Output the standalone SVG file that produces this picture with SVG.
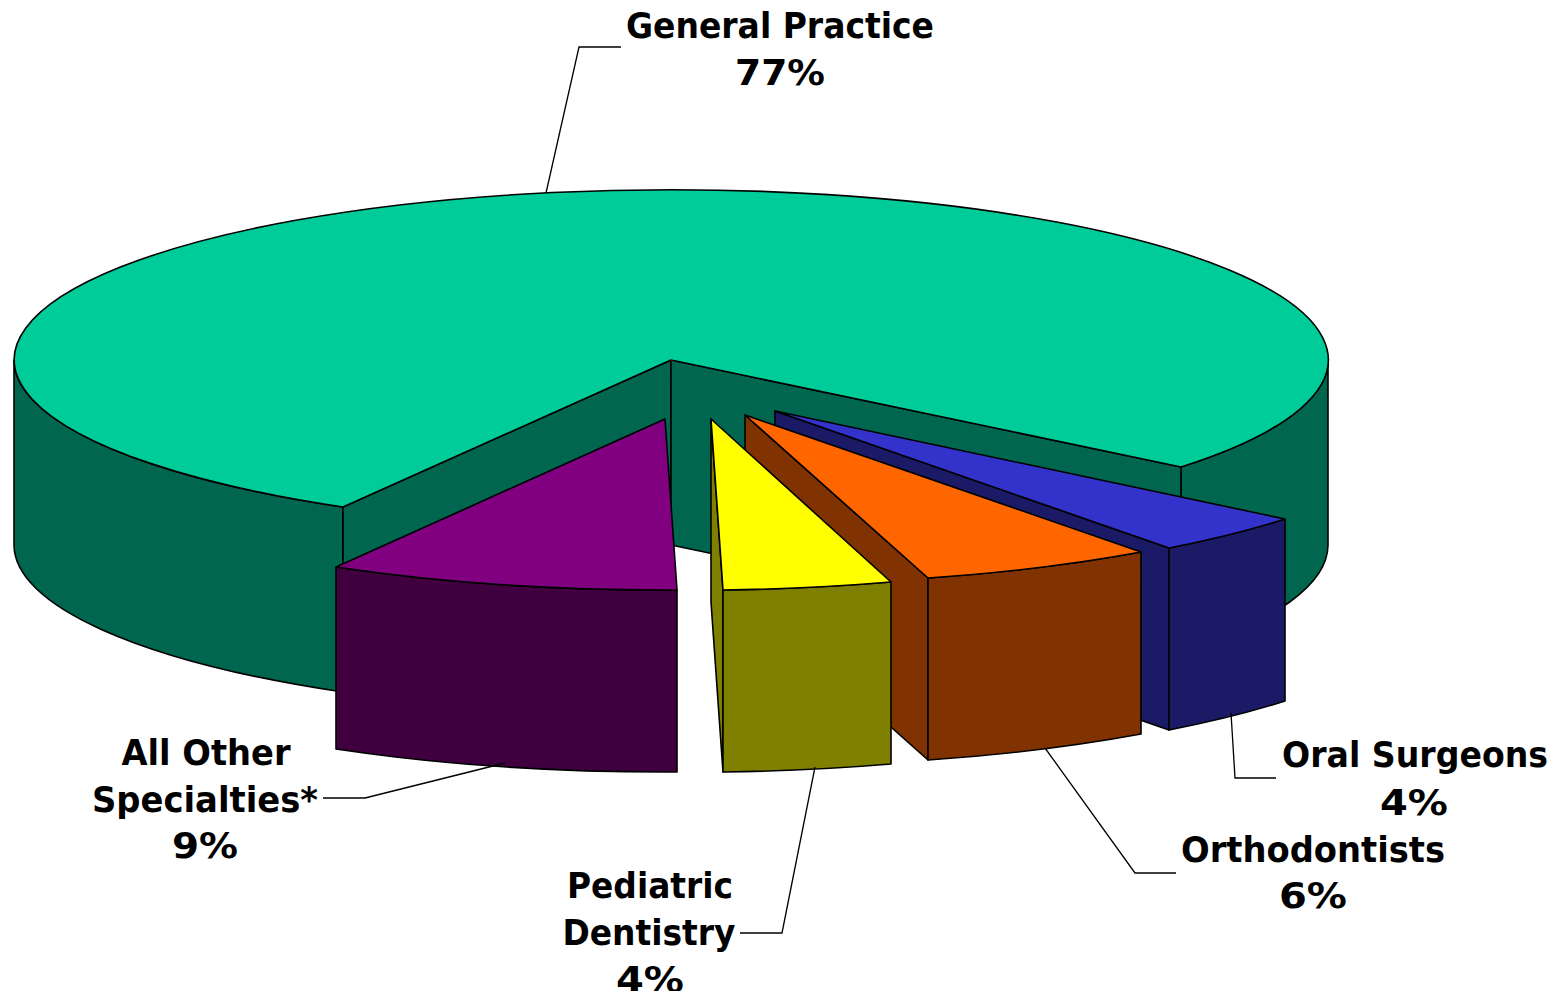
<svg xmlns="http://www.w3.org/2000/svg" width="1562" height="991" viewBox="0 0 1562 991">
<style>
.e{stroke:#000;stroke-width:1.6;stroke-linejoin:round}
.lead{fill:none;stroke:#000;stroke-width:1.3}
.lbl{font-family:"DejaVu Sans","Liberation Sans",sans-serif;font-weight:bold;font-size:36px;fill:#000;text-anchor:middle}
</style>
<rect width="1562" height="991" fill="#fff"/>
<g id="general-practice">
<path class="e" fill="#006650" d="M343 507 A657 170 0 0 1 14 360 L14 545 A657 170 0 0 0 343 692 Z"/>
<path class="e" fill="#006650" d="M1181 467 A657 170 0 0 0 1328 360 L1328 545 A657 170 0 0 1 1181 652 Z"/>
<path class="e" fill="#006650" d="M671 360 L343 507 L343 692 L671 545 Z"/>
<path class="e" fill="#006650" d="M671 360 L1181 467 L1181 652 L671 545 Z"/>
<path class="e" fill="#00CC99" d="M671 360 L343 507 A657 170 0 1 1 1181 467 Z"/>
</g>
<g id="oral-surgeons">
<path class="e" fill="#1A1A66" d="M775 411 L1169 548 L1169 730 L775 593 Z"/>
<path class="e" fill="#1A1A66" d="M1169 548 A657 170 0 0 0 1285 519 L1285 701 A657 170 0 0 1 1169 730 Z"/>
<path class="e" fill="#3333CC" d="M775 411 L1169 548 A657 170 0 0 0 1285 519 Z"/>
</g>
<g id="orthodontists">
<path class="e" fill="#803300" d="M745 415 L928 578 L928 760 L745 597 Z"/>
<path class="e" fill="#803300" d="M928 578 A657 170 0 0 0 1141 552 L1141 734 A657 170 0 0 1 928 760 Z"/>
<path class="e" fill="#FF6600" d="M745 415 L928 578 A657 170 0 0 0 1141 552 Z"/>
</g>
<g id="pediatric-dentistry">
<path class="e" fill="#808000" d="M711 419 L711 602 L723 772 L723 590 Z"/>
<path class="e" fill="#808000" d="M723 590 A657 170 0 0 0 891 582 L891 764 A657 170 0 0 1 723 772 Z"/>
<path class="e" fill="#FFFF00" d="M711 419 L723 590 A657 170 0 0 0 891 582 Z"/>
</g>
<g id="all-other-specialties">
<path class="e" fill="#400040" d="M336 567 A657 170 0 0 0 677 590 L677 772 A657 170 0 0 1 336 749 Z"/>
<path class="e" fill="#800080" d="M665 419 L336 567 A657 170 0 0 0 677 590 Z"/>
</g>
<g id="connectors">
<polyline class="lead" points="546,193 579,47 621,47"/>
<polyline class="lead" points="505,763 365,798 323,798"/>
<polyline class="lead" points="815,767 782,933 740,933"/>
<polyline class="lead" points="1045,748 1135,873 1176,873"/>
<polyline class="lead" points="1231,713 1235,778 1276,778"/>
</g>
<g id="labels">
<text class="lbl" x="780" y="38" textLength="308" lengthAdjust="spacingAndGlyphs">General Practice</text>
<text class="lbl" x="780" y="85" textLength="90" lengthAdjust="spacingAndGlyphs">77%</text>
<text class="lbl" x="206" y="765" textLength="169" lengthAdjust="spacingAndGlyphs">All Other</text>
<text class="lbl" x="205" y="812" textLength="226" lengthAdjust="spacingAndGlyphs">Specialties*</text>
<text class="lbl" x="205" y="858" textLength="66" lengthAdjust="spacingAndGlyphs">9%</text>
<text class="lbl" x="650" y="898" textLength="166" lengthAdjust="spacingAndGlyphs">Pediatric</text>
<text class="lbl" x="649" y="945" textLength="173" lengthAdjust="spacingAndGlyphs">Dentistry</text>
<text class="lbl" x="650" y="992" textLength="68" lengthAdjust="spacingAndGlyphs">4%</text>
<text class="lbl" x="1415" y="767" textLength="266" lengthAdjust="spacingAndGlyphs">Oral Surgeons</text>
<text class="lbl" x="1414" y="815" textLength="68" lengthAdjust="spacingAndGlyphs">4%</text>
<text class="lbl" x="1313" y="862" textLength="264" lengthAdjust="spacingAndGlyphs">Orthodontists</text>
<text class="lbl" x="1313" y="908" textLength="68" lengthAdjust="spacingAndGlyphs">6%</text>
</g>
</svg>
